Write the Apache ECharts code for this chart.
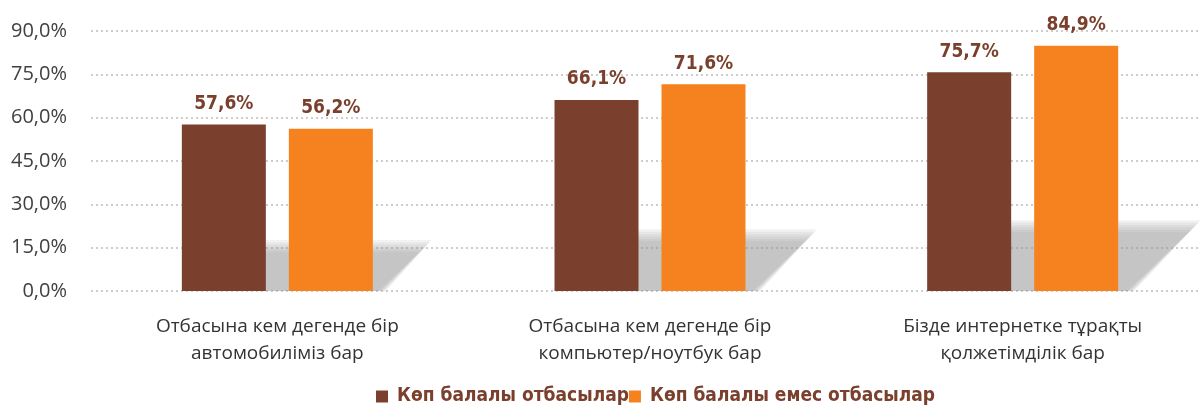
<!DOCTYPE html>
<html>
<head>
<meta charset="utf-8">
<script src="https://cdn.jsdelivr.net/npm/echarts@6/dist/echarts.min.js"></script>
<style>
	html, body { margin: 0; padding: 0; background: #fff; }
	#chart { width: 1200px; height: 405px; }
</style>
</head>
<body>
<div id="chart"></div>
<script>
	const categories = [
		"Отбасына кем дегенде бір\nавтомобиліміз бар",
		"Отбасына кем дегенде бір\nкомпьютер/ноутбук бар",
		"Бізде интернетке тұрақты\nқолжетімділік бар"
	]
	const seriesNames = ["Көп балалы отбасылар", "Көп балалы емес отбасылар"]
	const manyChildren = [57.6, 66.1, 75.7]
	const notManyChildren = [56.2, 71.6, 84.9]

	const brown = "#7b402d"
	const orange = "#f5821f"
	const barW = 84
	const gapW = 23
	const fmt = (v) => v.toFixed(1).replace(".", ",") + "%"
	const labelFont = "'Liberation Sans Narrow', 'DejaVu Sans Condensed', sans-serif"

	// soft floor shadow behind each pair of bars (stacked faint layers = blur)
	function renderShadow(params, api) {
		const idx = api.value(0)
		const v = api.value(1)
		const base = api.coord([idx, 0])
		const top = api.coord([idx, v * 0.24])
		const x0 = base[0] - gapW / 2 - barW / 2
		const xr = base[0] + gapW / 2 + barW
		const h = base[1] - top[1]
		const children = []
		for (let k = 0; k < 6; k++) {
			const e = 12 - k * 2.4
			children.push({
				type: "polygon",
				shape: {
					points: [
						[x0, base[1]],
						[x0, top[1] - e],
						[xr + h * 1.2 + e, top[1] - e],
						[xr + h * 0.15 + e * 0.6, base[1]]
					]
				},
				style: { fill: "rgba(150,150,150,0.12)" }
			})
		}
		return { type: "group", children: children }
	}

	const chart = echarts.init(document.getElementById("chart"))
	chart.setOption({
		animation: false,
		grid: { left: 91, width: 1118, top: 31, bottom: 114, outerBoundsMode: "none" },
		legend: {
			data: seriesNames,
			top: 382,
			left: 371,
			itemWidth: 12,
			itemHeight: 12,
			itemGap: 0,
			icon: "rect",
			textStyle: {
				color: brown,
				fontSize: 19,
				fontWeight: "bold",
				fontFamily: labelFont,
				padding: [0, 0, 0, 4]
			}
		},
		xAxis: {
			type: "category",
			data: categories,
			axisLine: { show: false },
			axisTick: { show: false },
			axisLabel: {
				color: "#333",
				fontSize: 19,
				lineHeight: 27,
				margin: 22,
				fontFamily: "Open Sans"
			}
		},
		yAxis: {
			type: "value",
			min: 0,
			max: 90,
			interval: 15,
			axisLabel: {
				formatter: fmt,
				color: "#404040",
				fontSize: 20,
				margin: 24,
				fontFamily: "Open Sans"
			},
			splitLine: {
				lineStyle: { color: "#bdbdbd", type: [2, 3], width: 1.5 }
			}
		},
		series: [
			{
				type: "custom",
				data: notManyChildren.map((v, i) => [i, v]),
				renderItem: renderShadow,
				silent: true,
				z: 1
			},
			{
				name: seriesNames[0],
				type: "bar",
				data: manyChildren,
				barWidth: barW,
				barGap: (gapW / barW * 100) + "%",
				z: 3,
				itemStyle: { color: brown },
				label: {
					show: true,
					position: "top",
					distance: 11,
					formatter: (p) => fmt(p.value),
					color: brown,
					fontSize: 19,
					fontWeight: "bold",
					fontFamily: labelFont
				}
			},
			{
				name: seriesNames[1],
				type: "bar",
				data: notManyChildren,
				barWidth: barW,
				z: 3,
				itemStyle: { color: orange },
				label: {
					show: true,
					position: "top",
					distance: 11,
					formatter: (p) => fmt(p.value),
					color: brown,
					fontSize: 19,
					fontWeight: "bold",
					fontFamily: labelFont
				}
			}
		]
	})
</script>
</body>
</html>
